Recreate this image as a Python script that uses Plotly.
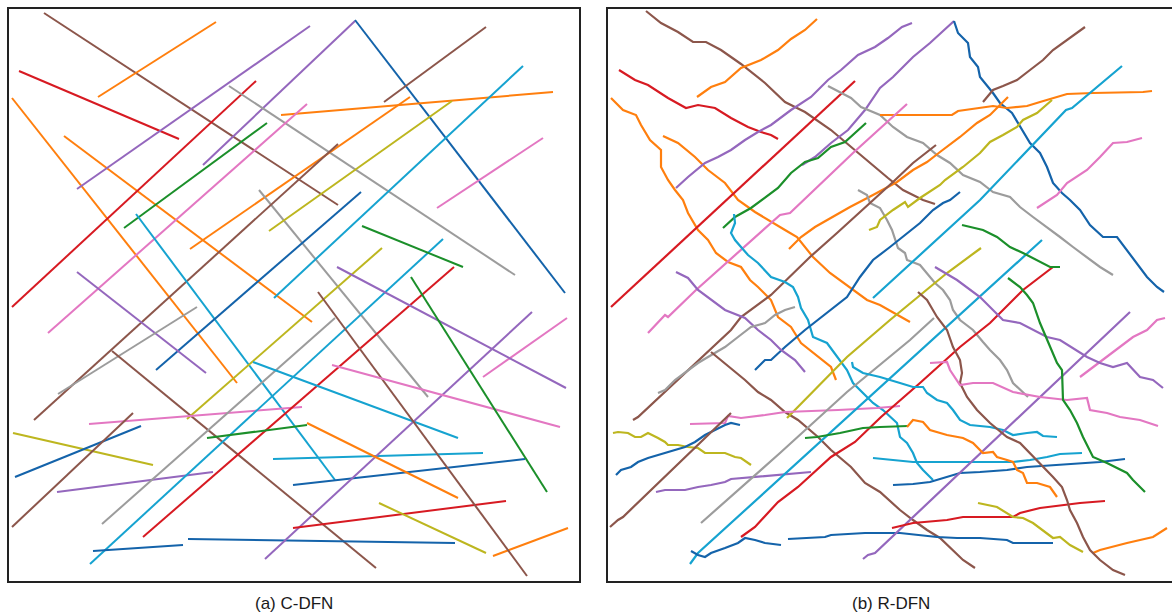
import plotly.graph_objects as go

# Fracture family of each fracture (same order in both networks)
FRACTURE_SET = [
    "brown", "orange", "red", "orange", "orange", "purple", "purple", "blue",
    "red", "gray", "orange", "green", "pink", "orange", "gray", "olive",
    "brown", "cyan", "blue", "cyan", "purple", "gray", "brown", "olive",
    "pink", "olive", "blue", "brown", "purple", "gray", "red", "cyan",
    "green", "cyan", "blue", "cyan", "blue", "blue", "purple", "red",
    "orange", "olive", "orange", "brown", "pink", "purple", "pink", "green",
    "green", "pink", "brown",
]

# C-DFN: straight fractures, (x0, y0, x1, y1) in model units
C_DFN_SEGMENTS = [
    (35, 568, 329, 376), (89, 484, 207, 559), (10, 510, 170, 442), (3, 483, 228, 198),
    (55, 445, 303, 259), (68, 392, 301, 555), (194, 416, 346, 560), (346, 561, 556, 288),
    (3, 274, 247, 500), (220, 495, 506, 306), (272, 466, 544, 489), (115, 353, 258, 458),
    (39, 248, 298, 477), (181, 332, 401, 484), (250, 391, 419, 184), (260, 350, 443, 480),
    (25, 161, 329, 437), (127, 367, 326, 101), (147, 211, 352, 389), (265, 283, 514, 515),
    (68, 309, 197, 208), (49, 187, 188, 274), (103, 230, 367, 13), (178, 162, 373, 333),
    (80, 157, 293, 174), (4, 148, 144, 116), (6, 104, 132, 155), (3, 54, 124, 168),
    (48, 89, 204, 109), (93, 57, 326, 263), (134, 44, 445, 314), (81, 17, 434, 342),
    (198, 143, 298, 156), (264, 122, 474, 128), (284, 96, 516, 122), (244, 219, 449, 143),
    (179, 42, 446, 38), (84, 30, 174, 36), (256, 22, 523, 269), (284, 53, 497, 80),
    (298, 158, 449, 83), (370, 78, 477, 28), (484, 25, 559, 53), (309, 289, 518, 5),
    (474, 204, 558, 263), (328, 314, 557, 193), (323, 216, 551, 154), (402, 304, 538, 89),
    (353, 355, 454, 314), (428, 373, 534, 443), (375, 479, 477, 554),
]

# R-DFN: rough traces of the same fractures, (x, y) vertices in model units
R_DFN_PATHS = [
    [(38, 570), (53, 558), (70, 549), (85, 539), (98, 539), (113, 531), (133, 517), (157, 498),
     (177, 479), (197, 469), (223, 451), (250, 428), (280, 403), (295, 391), (315, 381), (327, 377)],
    [(89, 484), (103, 494), (117, 499), (133, 513), (153, 521), (170, 531), (183, 542), (197, 551), (209, 562)],
    [(11, 511), (27, 501), (40, 496), (60, 483), (78, 473), (90, 476), (107, 473), (123, 463),
     (140, 454), (153, 449), (163, 446), (170, 442)],
    [(3, 483), (15, 471), (28, 466), (33, 456), (42, 441), (53, 431), (53, 414), (60, 401),
     (67, 391), (75, 381), (80, 368), (90, 351), (100, 341), (108, 328), (120, 319), (133, 314),
     (142, 301), (150, 294), (160, 284), (163, 281), (170, 264), (183, 254), (193, 238),
     (210, 224), (223, 214), (228, 201)],
    [(55, 445), (70, 438), (87, 424), (100, 411), (117, 398), (130, 381), (147, 369), (163, 359),
     (177, 351), (189, 344), (205, 324), (222, 308), (242, 293), (259, 281), (272, 276),
     (289, 266), (302, 259)],
    [(68, 393), (80, 404), (97, 418), (110, 424), (123, 431), (137, 441), (150, 449), (163, 456),
     (183, 471), (203, 484), (220, 501), (233, 511), (250, 526), (267, 534), (280, 543),
     (294, 554), (304, 558)],
    [(194, 416), (207, 424), (223, 438), (240, 451), (257, 471), (272, 493), (285, 504),
     (305, 524), (322, 538), (346, 560)],
    [(346, 560), (350, 548), (360, 538), (362, 524), (370, 514), (372, 504), (385, 488),
     (392, 478), (404, 468), (412, 454), (422, 438), (432, 428), (439, 414), (445, 398),
     (454, 388), (462, 381), (472, 371), (482, 356), (495, 344), (509, 344), (519, 331),
     (529, 318), (539, 304), (549, 294), (556, 289)],
    [(3, 274), (247, 500)],
    [(220, 495), (243, 483), (253, 474), (272, 466), (285, 454), (299, 444), (315, 438),
     (329, 426), (342, 418), (355, 406), (372, 399), (385, 389), (402, 384), (412, 374),
     (425, 364), (439, 354), (452, 344), (465, 334), (479, 324), (492, 314), (505, 306)],
    [(272, 466), (344, 466), (350, 470), (372, 473), (385, 475), (399, 473), (419, 475),
     (432, 479), (445, 483), (459, 487), (485, 488), (535, 489), (544, 490)],
    [(115, 353), (127, 364), (143, 373), (157, 383), (170, 393), (183, 408), (197, 419),
     (210, 423), (223, 434), (237, 439), (250, 451), (258, 458)],
    [(40, 248), (57, 266), (60, 264), (88, 291), (172, 366), (182, 368), (245, 428),
     (278, 458), (299, 477)],
    [(181, 332), (193, 344), (207, 354), (223, 363), (242, 374), (265, 386), (289, 399),
     (305, 411), (319, 419), (332, 429), (352, 444), (369, 458), (382, 466), (400, 484)],
    [(250, 391), (259, 386), (262, 378), (272, 373), (279, 361), (284, 351), (290, 333),
     (297, 328), (299, 321), (312, 316), (327, 298), (335, 291), (342, 281), (345, 271),
     (352, 261), (365, 251), (375, 239), (382, 231), (392, 221), (399, 211), (405, 198),
     (415, 188), (420, 184)],
    [(261, 351), (269, 354), (272, 361), (285, 371), (297, 379), (300, 374), (312, 383),
     (332, 396), (337, 401), (355, 414), (372, 428), (382, 439), (395, 446), (409, 454),
     (415, 461), (429, 468), (444, 481)],
    [(25, 161), (30, 164), (123, 251), (133, 264), (163, 286), (202, 324), (229, 348),
     (249, 366), (269, 384), (285, 399), (305, 418), (328, 436)],
    [(126, 367), (127, 358), (123, 348), (127, 341), (133, 334), (140, 326), (150, 318),
     (163, 304), (177, 299), (185, 294), (190, 284), (193, 273), (200, 261), (205, 244),
     (219, 238), (229, 224), (239, 211), (245, 198), (255, 188), (265, 178), (275, 171),
     (282, 164), (289, 158), (292, 144), (299, 138), (305, 128), (309, 118), (315, 111),
     (325, 101)],
    [(147, 211), (157, 221), (163, 221), (177, 234), (197, 251), (210, 261), (223, 271),
     (239, 284), (252, 304), (265, 321), (282, 334), (299, 348), (312, 358), (325, 371),
     (335, 378), (342, 381), (352, 389)],
    [(265, 283), (372, 381), (458, 471), (464, 473), (514, 515)],
    [(68, 309), (80, 303), (90, 291), (103, 281), (117, 271), (137, 263), (150, 251),
     (163, 241), (173, 231), (187, 221), (197, 209)],
    [(50, 188), (57, 191), (67, 201), (90, 218), (100, 224), (117, 234), (130, 244),
     (143, 254), (157, 258), (167, 266), (177, 271), (187, 274)],
    [(103, 229), (123, 213), (137, 201), (150, 189), (163, 181), (177, 169), (190, 161),
     (210, 144), (223, 131), (243, 114), (257, 98), (272, 89), (292, 71), (305, 61),
     (319, 51), (332, 43), (345, 31), (355, 21), (367, 13)],
    [(179, 163), (239, 224), (282, 261), (339, 308), (373, 333)],
    [(82, 157), (117, 158), (120, 165), (133, 163), (157, 166), (177, 169), (230, 171),
     (269, 173), (292, 175)],
    [(5, 148), (10, 149), (20, 148), (27, 144), (33, 144), (40, 148), (50, 143), (57, 139),
     (60, 136), (70, 136), (80, 134), (90, 133), (97, 128), (107, 128), (117, 128),
     (127, 124), (133, 123), (143, 116)],
    [(8, 106), (13, 111), (23, 114), (30, 119), (40, 123), (50, 126), (57, 128), (67, 131),
     (77, 134), (87, 139), (97, 146), (107, 151), (117, 156), (123, 158), (132, 156)],
    [(2, 54), (10, 61), (15, 64), (123, 168)],
    [(48, 89), (57, 91), (77, 91), (90, 94), (103, 96), (117, 99), (123, 102), (147, 104),
     (163, 106), (183, 107), (203, 109)],
    [(93, 58), (172, 128), (239, 189), (302, 241), (326, 263)],
    [(133, 44), (147, 54), (170, 79), (190, 94), (223, 124), (247, 139), (273, 164),
     (312, 198), (352, 234), (382, 258), (415, 291), (445, 314)],
    [(82, 17), (90, 28), (434, 341)],
    [(197, 143), (209, 144), (232, 148), (255, 153), (272, 154), (300, 155)],
    [(265, 123), (282, 121), (305, 119), (405, 119), (422, 121), (439, 124), (452, 127), (474, 128)],
    [(285, 96), (305, 97), (322, 99), (339, 104), (352, 108), (372, 109), (399, 111),
     (419, 114), (445, 116), (472, 118), (492, 119), (517, 122)],
    [(244, 219), (245, 214), (255, 208), (272, 204), (292, 198), (305, 194), (315, 194),
     (319, 188), (329, 181), (339, 178), (345, 171), (352, 161), (362, 156), (382, 154),
     (395, 151), (405, 146), (419, 148), (429, 149), (435, 145), (449, 144)],
    [(180, 42), (197, 43), (217, 44), (223, 46), (257, 48), (292, 48), (312, 46), (329, 44),
     (349, 43), (372, 43), (399, 41), (405, 38), (445, 38)],
    [(83, 30), (90, 26), (97, 24), (103, 28), (117, 33), (130, 38), (137, 43), (147, 41),
     (157, 38), (173, 36)],
    [(255, 22), (260, 26), (267, 28), (522, 269)],
    [(284, 53), (305, 58), (339, 61), (355, 64), (405, 64), (412, 68), (432, 73), (449, 75),
     (472, 78), (497, 80)],
    [(299, 154), (305, 161), (315, 159), (322, 151), (339, 146), (355, 143), (365, 138),
     (375, 128), (385, 129), (389, 124), (399, 121), (405, 119), (409, 111), (415, 108),
     (419, 98), (429, 98), (442, 94), (449, 84)],
    [(370, 78), (379, 76), (389, 74), (405, 64), (415, 63), (425, 58), (445, 43), (452, 44),
     (462, 36), (475, 29)],
    [(485, 28), (492, 31), (519, 38), (545, 44), (559, 53)],
    [(310, 289), (319, 281), (329, 264), (339, 251), (345, 234), (352, 221), (354, 208),
     (352, 198), (359, 184), (369, 171), (382, 158), (399, 144), (412, 138), (422, 128),
     (432, 118), (445, 104), (454, 94), (459, 81), (462, 71), (469, 58), (475, 44),
     (482, 31), (492, 21), (505, 11), (517, 6)],
    [(472, 204), (499, 224), (525, 244), (539, 251), (549, 261), (557, 263)],
    [(327, 314), (349, 301), (372, 284), (382, 274), (395, 261), (412, 258), (439, 244),
     (452, 241), (479, 224), (492, 218), (505, 214), (519, 218), (532, 204), (545, 201),
     (555, 193)],
    [(322, 218), (339, 219), (342, 211), (349, 201), (352, 196), (365, 198), (385, 198),
     (405, 189), (432, 184), (459, 181), (479, 183), (482, 171), (499, 168), (512, 164),
     (532, 161), (550, 155)],
    [(400, 303), (412, 294), (419, 286), (425, 278), (432, 258), (439, 241), (449, 218),
     (454, 211), (455, 181), (462, 171), (469, 158), (475, 144), (485, 124), (499, 118),
     (519, 108), (525, 101), (537, 89)],
    [(354, 356), (362, 354), (375, 351), (389, 344), (402, 334), (415, 328), (429, 321),
     (442, 314), (452, 314)],
    [(429, 373), (449, 386), (459, 398), (479, 411), (492, 424), (505, 438), (519, 439),
     (534, 443)],
    [(375, 479), (385, 491), (395, 495), (409, 501), (422, 511), (435, 521), (445, 531),
     (459, 541), (477, 554)],
]

PANEL_TITLES = ["(a) C-DFN", "(b) R-DFN"]

# Colour of each fracture family
PALETTE = {
    "blue": "#1463aa", "orange": "#ff7f0e", "green": "#1b8f2a", "red": "#d71a22",
    "purple": "#9467bd", "brown": "#8c564b", "pink": "#e377c2", "gray": "#9c9c9c",
    "olive": "#bdb61f", "cyan": "#16a3d0",
}

W, H = 1172, 616
fig = go.Figure()

for fam, (x0, y0, x1, y1) in zip(FRACTURE_SET, C_DFN_SEGMENTS):
    fig.add_trace(go.Scatter(
        x=[x0, x1], y=[y0, y1], mode="lines", xaxis="x", yaxis="y",
        line=dict(color=PALETTE[fam], width=2), hoverinfo="skip", showlegend=False))

for fam, path in zip(FRACTURE_SET, R_DFN_PATHS):
    fig.add_trace(go.Scatter(
        x=[p[0] for p in path], y=[p[1] for p in path], mode="lines",
        xaxis="x2", yaxis="y2",
        line=dict(color=PALETTE[fam], width=2.2), hoverinfo="skip", showlegend=False))

frame = dict(showgrid=False, zeroline=False, showticklabels=False, ticks="",
             showline=True, linecolor="#222222", linewidth=2)
y_dom = [35 / H, 607 / H]

fig.update_layout(
    width=W, height=H, margin=dict(l=0, r=0, t=0, b=0),
    paper_bgcolor="white", plot_bgcolor="white",
    xaxis=dict(domain=[9 / W, 579 / W], range=[0, 570], mirror=True, **frame),
    yaxis=dict(domain=y_dom, range=[0, 572], mirror=True, **frame),
    xaxis2=dict(domain=[608 / W, 1.0], range=[0, 564], mirror=True, anchor="y2", **frame),
    yaxis2=dict(domain=y_dom, range=[0, 572], mirror=False, anchor="x2", **frame),
)

for cx, title in zip([294 / W, 891 / W], PANEL_TITLES):
    fig.add_annotation(
        x=cx, y=0, xref="paper", yref="paper", text=title, showarrow=False,
        xanchor="center", yanchor="bottom", yshift=1,
        font=dict(family="Liberation Sans, Arial, sans-serif", size=17, color="#1a1a1a"))

fig.write_html("out.html")
